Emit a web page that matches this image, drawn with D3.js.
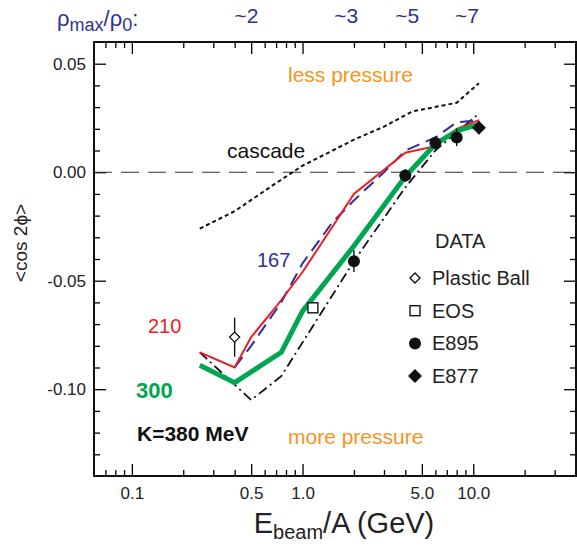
<!DOCTYPE html>
<html><head><meta charset="utf-8">
<script src="https://cdn.jsdelivr.net/npm/d3@7"></script>
<style>body{margin:0;background:#fff} svg{display:block} text{font-family:"Liberation Sans",Arial,Helvetica,sans-serif}</style>
</head><body><svg id="c" width="577" height="554"></svg>
<script>
// ---- axis ticks ----
const xMajorTicks=[0.1,0.5,1,5,10];
const xMajorLabels=["0.1","0.5","1.0","5.0","10.0"];
const xMinorTicks=[0.07,0.08,0.09,0.2,0.3,0.4,0.6,0.7,0.8,0.9,2,3,4,6,7,8,9,20,30];
const yMajorTicks=[0.05,0,-0.05,-0.10];
const yMajorLabels=["0.05","0.00","-0.05","-0.10"];
const yMinorTicks=[0.04,0.03,0.02,0.01,-0.01,-0.02,-0.03,-0.04,-0.06,-0.07,-0.08,-0.09,-0.11,-0.12,-0.13];
// ---- model curves ----
const k300E=[0.25,0.4,0.75,1.0,2.0,4.0,6.0,8.0,10.8];
const k300=[-0.089,-0.097,-0.083,-0.064,-0.034,-0.002,0.013,0.019,0.022];
const k210E=[0.25,0.4,0.5,0.7,1.0,1.5,2.0,4.0,6.0,8.0,10.8];
const k210=[-0.083,-0.090,-0.076,-0.062,-0.046,-0.025,-0.010,0.009,0.012,0.020,0.024];
const k167E=[0.4,0.5,0.75,1.0,1.5,2.0,3.0,4.0,6.0,8.0,10.8];
const k167=[-0.090,-0.080,-0.060,-0.042,-0.023,-0.013,0.000,0.010,0.016,0.023,0.024];
const cascadeE=[0.25,0.4,0.7,1.0,1.5,2.0,3.0,4.4,8.0,10.8];
const cascade=[-0.026,-0.018,-0.005,0.003,0.010,0.015,0.021,0.028,0.032,0.041];
const k380E=[0.25,0.5,0.75,2.0,4.0,6.0,8.0,10.8];
const k380=[-0.083,-0.105,-0.094,-0.041,-0.007,0.010,0.0185,0.027];
// ---- data ----
const plasticE=[0.4], plastic=[-0.076], plasticErr=[0.009];
const eosE=[1.15], eos=[-0.0625];
const e895E=[2,4,6,8], e895=[-0.041,-0.0015,0.0135,0.016], e895Err=[0.005,0.003,0.003,0.004];
const e877E=[10.8], e877=[0.0205], e877Err=[0.003];
// ---- top density labels ----
const rhoE=[0.47,1.8,4.1,9.2];
const rhoLabels=["~2","~3","~5","~7"];
const legendNames=["Plastic Ball","EOS","E895","E877"];

const svg=d3.select("#c");
const L=94,R=576,T=42,B=476;
const x=d3.scaleLog().domain([0.06,40]).range([L,R]);
const y=d3.scaleLinear().domain([-0.14,0.06]).range([B,T]);
const blue="#2e3192", red="#ed1c24", green="#00a651", orange="#f7941d";

function styleAxis(g){g.select(".domain").remove();g.selectAll(".tick line").attr("stroke","#000").attr("stroke-width",1.3);
  g.selectAll("text").attr("font-size",17).attr("fill","#222").attr("font-family","Liberation Sans, Arial, sans-serif");}
// bottom
svg.append("g").attr("transform",`translate(0,${B})`).call(d3.axisBottom(x).tickValues(xMajorTicks).tickSize(-12).tickPadding(11).tickFormat((d,i)=>xMajorLabels[i])).call(styleAxis);
svg.append("g").attr("transform",`translate(0,${B})`).call(d3.axisBottom(x).tickValues(xMinorTicks).tickSize(-6).tickFormat("")).call(styleAxis);
// top
svg.append("g").attr("transform",`translate(0,${T})`).call(d3.axisTop(x).tickValues(xMajorTicks).tickSize(-12).tickFormat("")).call(styleAxis);
svg.append("g").attr("transform",`translate(0,${T})`).call(d3.axisTop(x).tickValues(xMinorTicks).tickSize(-6).tickFormat("")).call(styleAxis);
// left
svg.append("g").attr("transform",`translate(${L},0)`).call(d3.axisLeft(y).tickValues(yMajorTicks).tickSize(-12).tickPadding(8).tickFormat((d,i)=>yMajorLabels[i])).call(styleAxis);
svg.append("g").attr("transform",`translate(${L},0)`).call(d3.axisLeft(y).tickValues(yMinorTicks).tickSize(-6).tickFormat("")).call(styleAxis);
// right
svg.append("g").attr("transform",`translate(${R},0)`).call(d3.axisRight(y).tickValues(yMajorTicks).tickSize(-12).tickFormat("")).call(styleAxis);
svg.append("g").attr("transform",`translate(${R},0)`).call(d3.axisRight(y).tickValues(yMinorTicks).tickSize(-6).tickFormat("")).call(styleAxis);

// zero line
svg.append("line").attr("x1",L).attr("x2",R).attr("y1",y(0)).attr("y2",y(0)).attr("stroke","#333").attr("stroke-width",1.1).attr("stroke-dasharray","18,9");

const line=d3.line().x(d=>x(d[0])).y(d=>y(d[1]));
function curve(E,V,color,w,dash){svg.append("path").datum(E.map((e,i)=>[e,V[i]])).attr("d",line).attr("fill","none").attr("stroke",color).attr("stroke-width",w).attr("stroke-dasharray",dash||null).attr("stroke-linejoin","miter");}
curve(cascadeE,cascade,"#111",2,"4,3");
curve(k380E,k380,"#111",1.8,"10,4,2,4");
curve(k167E,k167,blue,2,"13,7");
curve(k210E,k210,red,2);
curve(k300E,k300,green,5);

// error bars
function errs(E,V,Er){E.forEach((e,i)=>{svg.append("line").attr("x1",x(e)).attr("x2",x(e)).attr("y1",y(V[i]-Er[i])).attr("y2",y(V[i]+Er[i])).attr("stroke","#111").attr("stroke-width",1.4);});}
errs(plasticE,plastic,plasticErr); errs(e895E,e895,e895Err); errs(e877E,e877,e877Err);
// symbols
function diamond(cx,cy,r,fill){svg.append("path").attr("d",`M${cx},${cy-r}L${cx+r},${cy}L${cx},${cy+r}L${cx-r},${cy}Z`).attr("fill",fill).attr("stroke","#111").attr("stroke-width",1.4);}
function square(cx,cy,s){svg.append("rect").attr("x",cx-s/2).attr("y",cy-s/2).attr("width",s).attr("height",s).attr("fill","#fff").attr("stroke","#111").attr("stroke-width",1.4);}
function circle(cx,cy,r){svg.append("circle").attr("cx",cx).attr("cy",cy).attr("r",r).attr("fill","#111");}
plasticE.forEach((e,i)=>diamond(x(e),y(plastic[i]),5,"#fff"));
eosE.forEach((e,i)=>square(x(e),y(eos[i]),10));
e895E.forEach((e,i)=>circle(x(e),y(e895[i]),6));
e877E.forEach((e,i)=>diamond(x(e),y(e877[i]),6,"#111"));

// legend
const lgX=415, lgY=278, lgStep=32.7;
svg.append("text").attr("x",435).attr("y",248).attr("font-size",20).attr("fill","#222").text("DATA");
legendNames.forEach((n,i)=>{
  const cy=lgY+i*lgStep;
  if(i===0)diamond(lgX,cy,5,"#fff"); else if(i===1)square(lgX,cy,10); else if(i===2)circle(lgX,cy,6); else diamond(lgX,cy,6,"#111");
  svg.append("text").attr("x",432).attr("y",cy+7).attr("font-size",20).attr("fill","#222").text(n);
});

// annotations
function txt(xx,yy,s,size,color,weight,anchor){return svg.append("text").attr("x",xx).attr("y",yy).attr("font-size",size).attr("fill",color).attr("font-weight",weight||"normal").attr("text-anchor",anchor||"start").text(s);}
txt(288,82,"less pressure",21,orange);
txt(288,444,"more pressure",21,orange);
txt(227,158,"cascade",21,"#111");
txt(257,267,"167",20,blue);
txt(148,333,"210",20,red);
txt(136,398,"300",22,green,"bold");
txt(137,441,"K=380 MeV",21,"#111","bold");

// top density labels
const rt=svg.append("text").attr("x",57).attr("y",26).attr("font-size",22).attr("fill",blue);
rt.append("tspan").text("ρ");
rt.append("tspan").attr("font-size",18).attr("dy",5).text("max");
rt.append("tspan").attr("dy",-5).text("/ρ");
rt.append("tspan").attr("font-size",18).attr("dy",5).text("0");
rt.append("tspan").attr("dy",-5).text(":");
rhoE.forEach((e,i)=>txt(x(e),23,rhoLabels[i],21,blue,"normal","middle"));

// axis titles
const xt=svg.append("text").attr("x",344).attr("y",533).attr("font-size",29).attr("fill","#222").attr("text-anchor","middle");
xt.append("tspan").text("E");
xt.append("tspan").attr("font-size",20).attr("dy",6).text("beam");
xt.append("tspan").attr("dy",-6).text("/A (GeV)");
svg.append("text").attr("transform","translate(27,243) rotate(-90)").attr("font-size",19).attr("fill","#222").attr("text-anchor","middle").text("<cos 2ϕ>");

// frame
svg.append("rect").attr("x",L).attr("y",T).attr("width",R-L).attr("height",B-T).attr("fill","none").attr("stroke","#111").attr("stroke-width",2);
</script></body></html>
